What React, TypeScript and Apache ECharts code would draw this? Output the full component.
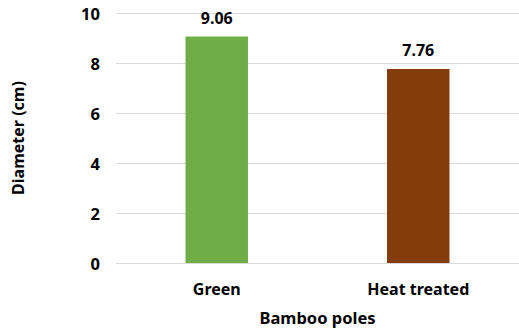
import React, { useEffect, useRef } from "react";
import * as echarts from "echarts";

const categories = ["Green", "Heat treated"];
const values = [9.06, 7.76];
const barColors = ["#70ad47", "#843c0c"];
const yTicks = { min: 0, max: 10, interval: 2 };

export default function App() {
  const ref = useRef<HTMLDivElement>(null);
  useEffect(() => {
    if (!ref.current) return;
    const chart = echarts.init(ref.current, undefined, { renderer: "svg" });
    const font = "'Noto Sans', sans-serif";
    chart.setOption({
      animation: false,
      backgroundColor: "#ffffff",
      grid: { left: 116, right: -2, top: 13, bottom: 70 },
      xAxis: {
        type: "category",
        data: categories,
        name: "Bamboo poles",
        nameLocation: "middle",
        nameGap: 46,
        nameTextStyle: { fontFamily: font, fontWeight: "bold", fontSize: 16.5, color: "#000" },
        axisLine: { show: true, lineStyle: { color: "#d9d9d9" } },
        axisTick: { show: false },
        axisLabel: { fontFamily: font, fontWeight: "bold", fontSize: 16, color: "#000", margin: 18 },
      },
      yAxis: {
        type: "value",
        min: yTicks.min,
        max: yTicks.max,
        interval: yTicks.interval,
        name: "Diameter (cm)",
        nameLocation: "middle",
        nameGap: 90,
        nameTextStyle: { fontFamily: font, fontWeight: "bold", fontSize: 16, color: "#000" },
        axisLine: { show: false },
        axisTick: { show: false },
        axisLabel: { fontFamily: font, fontWeight: "bold", fontSize: 16.5, color: "#000", margin: 16 },
        splitLine: { lineStyle: { color: "#d9d9d9" } },
      },
      series: [
        {
          type: "bar",
          barWidth: "31%",
          data: values.map((v, i) => ({ value: v, itemStyle: { color: barColors[i] } })),
          label: {
            show: true,
            position: "top",
            distance: 11,
            fontFamily: font,
            fontWeight: "bold",
            fontSize: 16,
            color: "#000",
            formatter: (p: any) => p.value.toFixed(2),
          },
        },
      ],
    });
    return () => chart.dispose();
  }, []);
  return (
    <div
      ref={ref}
      style={{ position: "fixed", left: 0, top: 0, width: 519, height: 333 }}
    />
  );
}
